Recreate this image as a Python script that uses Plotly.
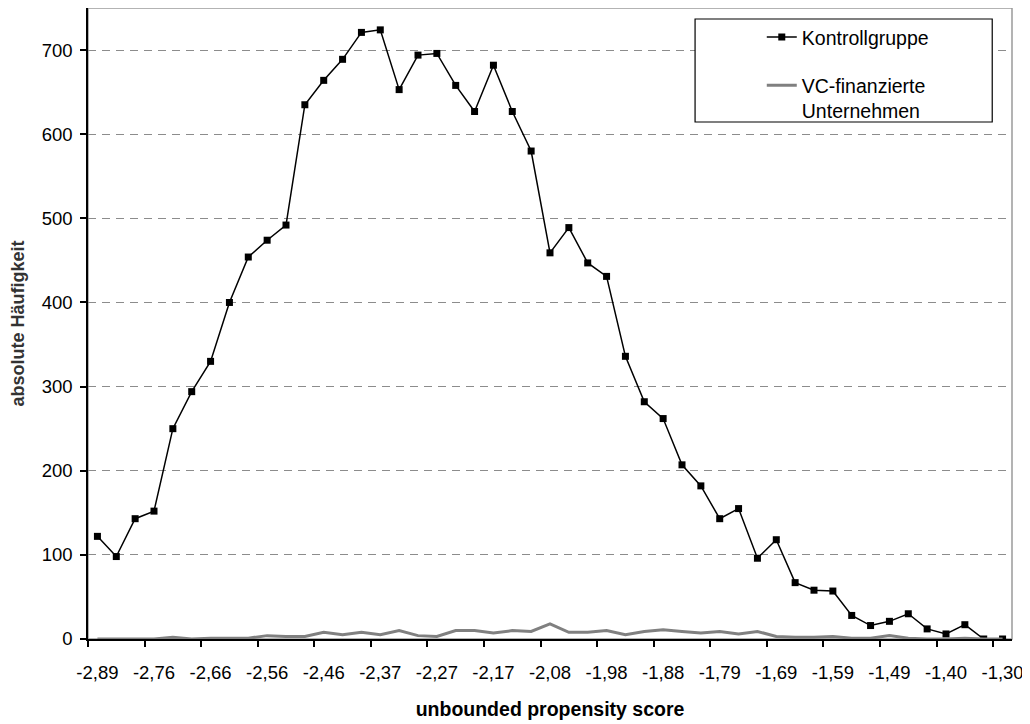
import plotly.graph_objects as go

# ---- data ----
tick_labels = ["-2,89", "-2,76", "-2,66", "-2,56", "-2,46", "-2,37", "-2,27", "-2,17",
               "-2,08", "-1,98", "-1,88", "-1,79", "-1,69", "-1,59", "-1,49", "-1,40", "-1,30"]
label_every = 3

kontrollgruppe = [122, 98, 143, 152, 250, 294, 330, 400, 454, 474, 492, 635, 664, 689,
                  721, 724, 653, 694, 696, 658, 627, 682, 627, 580, 459, 489, 447, 431,
                  336, 282, 262, 207, 182, 143, 155, 96, 118, 67, 58, 57, 28, 16, 21,
                  30, 12, 6, 17, 0, 0]
vc_finanziert = [0, 0, 0, 0, 2, 0, 1, 1, 1, 4, 3, 3, 8, 5, 8, 5, 10, 4, 3, 10, 10, 7,
                 10, 9, 18, 8, 8, 10, 5, 9, 11, 9, 7, 9, 6, 9, 3, 2, 2, 3, 1, 1, 4, 1,
                 0, 0, 1, 0, 0]

x_idx = list(range(len(kontrollgruppe)))
tick_pos = x_idx[::label_every]

FONT = "Liberation Sans, Arial, sans-serif"

fig = go.Figure()
fig.add_trace(go.Scatter(
    x=x_idx, y=kontrollgruppe, mode="lines+markers", name="Kontrollgruppe",
    line=dict(color="black", width=1.5),
    marker=dict(symbol="square", size=7, color="black"),
    legendgroup="a"))
fig.add_trace(go.Scatter(
    x=x_idx, y=vc_finanziert, mode="lines", name="VC-finanzierte<br>Unternehmen",
    line=dict(color="#808080", width=3),
    legendgroup="b"))

# plot frame (gray top/right), legend box
fig.add_shape(type="rect", xref="paper", yref="paper", x0=0, x1=1, y0=0, y1=1,
              line=dict(color="#9a9a9a", width=1.5), layer="below")
fig.add_shape(type="rect", xref="paper", yref="paper", x0=0.657, x1=0.9786,
              y0=0.8193, y1=0.9826, line=dict(color="black", width=1.2),
              fillcolor="white", layer="above")

fig.update_layout(
    width=1022, height=716,
    margin=dict(l=80, r=18, t=0, b=85),
    plot_bgcolor="white", paper_bgcolor="white",
    font=dict(family=FONT, size=18.5, color="black"),
    showlegend=True,
    legend=dict(x=0.7292, y=0.9845, xanchor="left", yanchor="top",
                bgcolor="rgba(0,0,0,0)", borderwidth=0,
                font=dict(size=19.5, family=FONT), tracegroupgap=20,
                valign="top", traceorder="grouped"),
    xaxis=dict(
        range=[-0.5, len(x_idx) - 0.5],
        tickmode="array", tickvals=tick_pos, ticktext=tick_labels,
        ticks="", showgrid=False, zeroline=False, automargin=False,
        showline=True, linecolor="black", linewidth=1.5,
        ticklabelstandoff=16,
        minor=dict(tick0=-0.5, dtick=label_every, ticks="outside", ticklen=6,
                   tickcolor="black", tickwidth=1.5, showgrid=False),
        title=dict(text="<b>unbounded propensity score</b>",
                   font=dict(size=19.5, family=FONT), standoff=20),
    ),
    yaxis=dict(
        range=[0, 750], tickmode="array", tickvals=list(range(0, 800, 100)),
        ticks="outside", ticklen=6, tickcolor="black", tickwidth=1.5,
        showline=True, linecolor="black", linewidth=1.5, automargin=False,
        showgrid=True, gridcolor="#8c8c8c", gridwidth=1, griddash="8px,6px",
        zeroline=False, ticklabelstandoff=4,
        title=dict(text="<b>absolute Häufigkeit</b>",
                   font=dict(size=18, family=FONT, color="#333333"), standoff=15),
    ),
)

fig.write_html("out.html")
